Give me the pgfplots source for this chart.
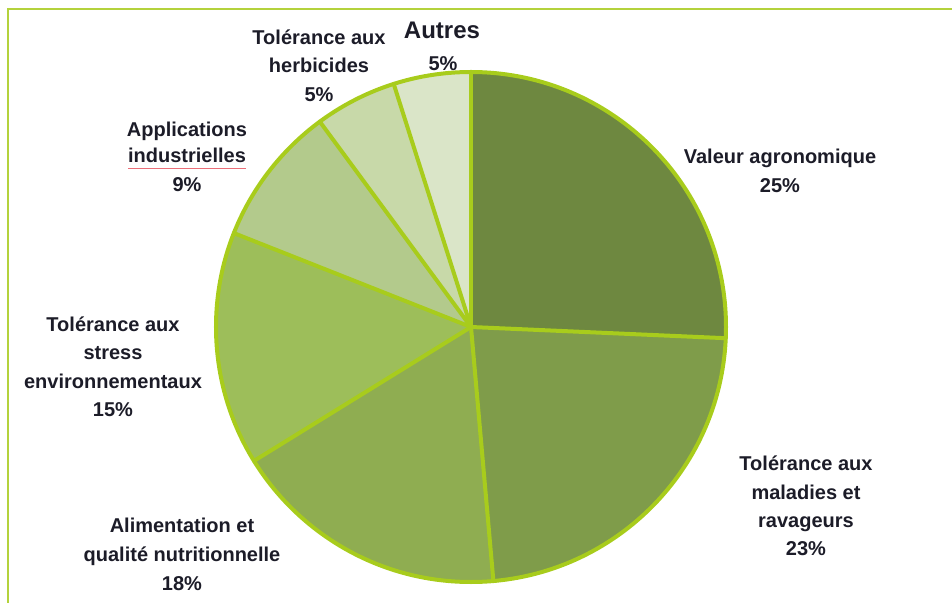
\documentclass[border=0pt]{standalone}
\usepackage{fontspec}
\setmainfont{Liberation Sans}
\usepackage{pgfplots}
\pgfplotsset{compat=1.18}
\definecolor{cA}{RGB}{110,136,64}
\definecolor{cB}{RGB}{127,156,74}
\definecolor{cC}{RGB}{143,173,81}
\definecolor{cD}{RGB}{157,190,90}
\definecolor{cE}{RGB}{179,202,140}
\definecolor{cF}{RGB}{200,217,169}
\definecolor{cG}{RGB}{218,229,200}
\definecolor{edge}{RGB}{168,204,28}
\definecolor{framec}{RGB}{180,210,60}
\definecolor{txt}{RGB}{28,28,40}
\definecolor{spell}{RGB}{235,110,120}
\tikzset{lab/.style={font=\fontsize{20bp}{24bp}\selectfont\bfseries, text=txt, anchor=base, inner sep=0pt}}
% shares (percent), clockwise from the top
\def\vA{25.7}\def\vB{22.9}\def\vC{17.6}\def\vD{14.8}\def\vE{8.9}\def\vF{5.2}\def\vG{4.9}
\pgfmathsetmacro\aA{90-3.6*\vA}
\pgfmathsetmacro\aB{\aA-3.6*\vB}
\pgfmathsetmacro\aC{\aB-3.6*\vC}
\pgfmathsetmacro\aD{\aC-3.6*\vD}
\pgfmathsetmacro\aE{\aD-3.6*\vE}
\pgfmathsetmacro\aF{\aE-3.6*\vF}
\pgfmathsetmacro\aG{\aF-3.6*\vG}
\begin{document}%
\begin{tikzpicture}
\begin{axis}[
  at={(0,0)}, anchor=origin,
  x=1bp, y=1bp,
  xmin=0, xmax=952, ymin=0, ymax=603,
  hide axis, clip=false,
]
% wedges
\fill[cA] (471,276) -- ++(90:255bp) arc[start angle=90,end angle=\aA,radius=255bp] -- cycle;
\fill[cB] (471,276) -- ++(\aA:255bp) arc[start angle=\aA,end angle=\aB,radius=255bp] -- cycle;
\fill[cC] (471,276) -- ++(\aB:255bp) arc[start angle=\aB,end angle=\aC,radius=255bp] -- cycle;
\fill[cD] (471,276) -- ++(\aC:255bp) arc[start angle=\aC,end angle=\aD,radius=255bp] -- cycle;
\fill[cE] (471,276) -- ++(\aD:255bp) arc[start angle=\aD,end angle=\aE,radius=255bp] -- cycle;
\fill[cF] (471,276) -- ++(\aE:255bp) arc[start angle=\aE,end angle=\aF,radius=255bp] -- cycle;
\fill[cG] (471,276) -- ++(\aF:255bp) arc[start angle=\aF,end angle=\aG,radius=255bp] -- cycle;
% outlines
\draw[edge, line width=4bp, line join=round] (471,276) circle[radius=255bp];
\draw[edge, line width=4bp, line cap=round] (471,276) -- ++(90:255bp);
\draw[edge, line width=4bp, line cap=round] (471,276) -- ++(\aA:255bp);
\draw[edge, line width=4bp, line cap=round] (471,276) -- ++(\aB:255bp);
\draw[edge, line width=4bp, line cap=round] (471,276) -- ++(\aC:255bp);
\draw[edge, line width=4bp, line cap=round] (471,276) -- ++(\aD:255bp);
\draw[edge, line width=4bp, line cap=round] (471,276) -- ++(\aE:255bp);
\draw[edge, line width=4bp, line cap=round] (471,276) -- ++(\aF:255bp);
% frame
\draw[framec, line width=2.5bp] (8,0) -- (8,594) -- (952,594);
% labels
\node[lab, font=\fontsize{24bp}{28bp}\selectfont\bfseries] at (442,564) {Autres};
\node[lab] at (443,532) {5\%};
\node[lab] at (319,558) {Tolérance aux};
\node[lab] at (319,530) {herbicides};
\node[lab] at (319,501) {5\%};
\node[lab] at (187,466) {Applications};
\node[lab] at (187,440) {industrielles};
\draw[spell, line width=1bp] (128,434) -- (246,434);
\node[lab] at (187,411) {9\%};
\node[lab] at (780,439) {Valeur agronomique};
\node[lab] at (780,410) {25\%};
\node[lab] at (113,272) {Tolérance aux};
\node[lab] at (113,244) {stress};
\node[lab] at (113,215) {environnementaux};
\node[lab] at (113,187) {15\%};
\node[lab] at (806,133) {Tolérance aux};
\node[lab] at (806,104) {maladies et};
\node[lab] at (806,76) {ravageurs};
\node[lab] at (806,48) {23\%};
\node[lab] at (182,71) {Alimentation et};
\node[lab] at (182,42) {qualité nutritionnelle};
\node[lab] at (182,13) {18\%};
\end{axis}
\pgfresetboundingbox
\path[use as bounding box] (0,0) rectangle (952bp,603bp);
\end{tikzpicture}%
\end{document}
